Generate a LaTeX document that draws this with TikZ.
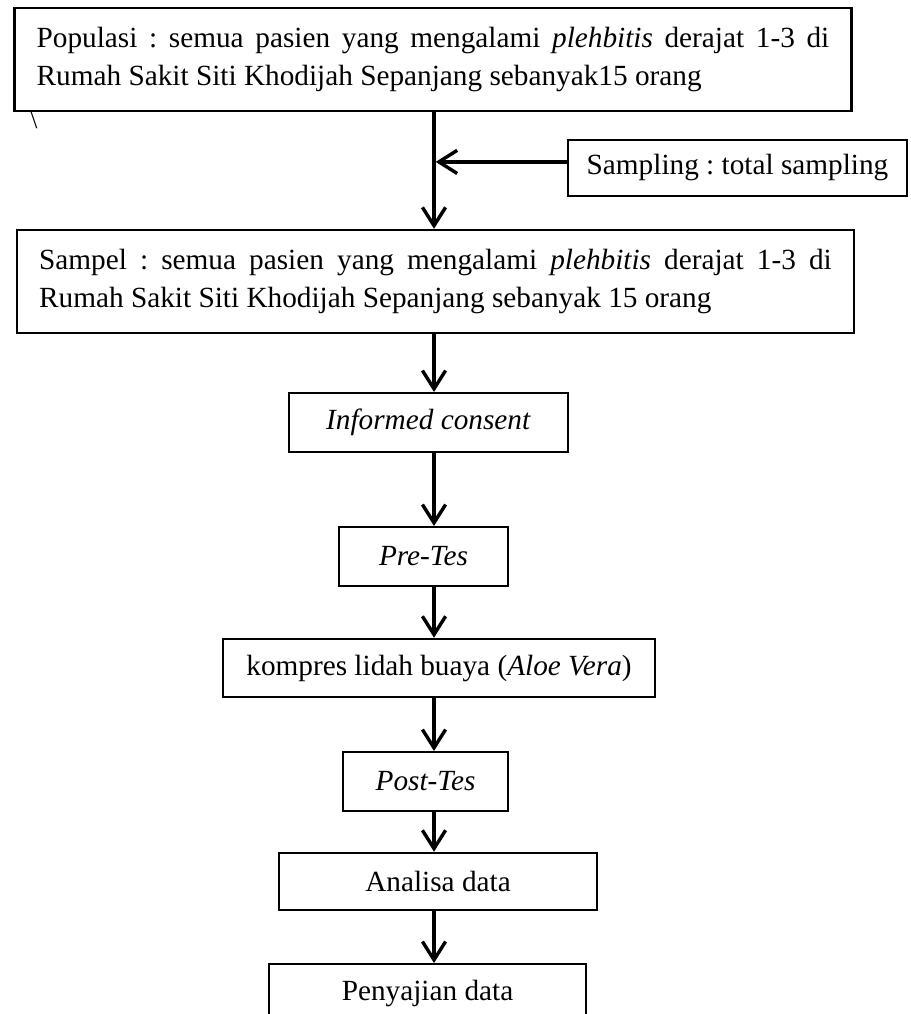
\documentclass[tikz,border=0pt]{standalone}
\usepackage{fontspec}
\setmainfont{Liberation Serif}
\usepackage{tikz}
\usetikzlibrary{arrows.meta,positioning,calc}
\frenchspacing
\tikzset{
  wide/.style={draw,line width=1pt,inner xsep=9pt,text width=325pt,align=justify,
    minimum height=42.2pt,font=\fontsize{12}{15.5}\selectfont},
  box/.style={draw,line width=1pt,inner sep=3pt,align=center,minimum height=24pt,
    font=\fontsize{12}{15.5}\selectfont},
  arr/.style={-{Straight Barb[length=7.5pt,width=9.5pt,line width=1.4pt]},line width=1.4pt},
}

\begin{document}
\begin{tikzpicture}[x=0.41pt,y=-0.41pt]
  \useasboundingbox (0,0) rectangle (910,1014);
  \clip (0,0) rectangle (910,1014);
  \coordinate (spine) at (434,0);
  \node[wide] (pop) at (433,59.5)
    {Populasi : semua pasien yang mengalami \textit{plehbitis} derajat 1-3 di\linebreak
     Rumah Sakit Siti Khodijah Sepanjang sebanyak15 orang};
  \node[font=\fontsize{10.5}{11}\selectfont,inner sep=0pt] (stray) at (34,120) {\textbackslash};
  \node[box,minimum width=139pt,minimum height=23pt] (samp) at (737.5,168)
    {Sampling : total sampling};
  \node[wide] (sampel) at (435.5,281.5)
    {Sampel : semua pasien yang mengalami \textit{plehbitis} derajat 1-3 di\linebreak
     Rumah Sakit Siti Khodijah Sepanjang sebanyak 15 orang};
  \node[box,minimum width=114.4pt] (consent) at (428.5,422.5) {\textit{Informed consent}};
  \node[box,minimum width=69.3pt] (pre) at (423.5,556.5) {\textit{Pre-Tes}};
  \node[box,minimum width=177.1pt,minimum height=23.8pt] (kompres) at (439,668)
    {kompres lidah buaya (\textit{Aloe Vera})};
  \node[box,minimum width=67.7pt] (post) at (425.5,781.5) {\textit{Post-Tes}};
  \node[box,minimum width=130.4pt,minimum height=23.4pt] (analisa) at (438,881.5) {Analisa data};
  \node[box,minimum width=130pt] (saji) at (427.5,993.5) {Penyajian data};

  \draw[arr] (pop.south -| spine) -- (sampel.north -| spine);
  \draw[arr] ([yshift=2.5pt]samp.west) -- ([yshift=2.5pt,xshift=0.7pt]samp.west -| spine);
  \draw[arr] (sampel.south -| spine) -- (consent.north -| spine);
  \draw[arr] (consent.south -| spine) -- (pre.north -| spine);
  \draw[arr] (pre.south -| spine) -- (kompres.north -| spine);
  \draw[arr] (kompres.south -| spine) -- (post.north -| spine);
  \draw[arr] (post.south -| spine) -- (analisa.north -| spine);
  \draw[arr] (analisa.south -| spine) -- (saji.north -| spine);
\end{tikzpicture}
\end{document}
